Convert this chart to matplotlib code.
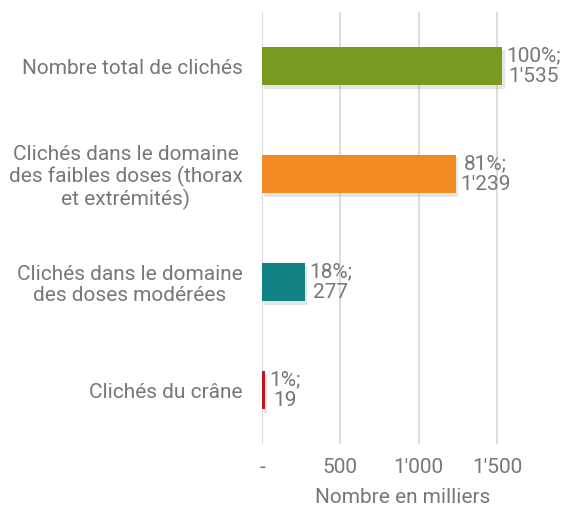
import numpy as np
import matplotlib.pyplot as plt
import matplotlib.patheffects as pe

categories = ["Nombre total de clichés",
              "Clichés dans le domaine\ndes faibles doses (thorax\net extrémités)",
              "Clichés dans le domaine\ndes doses modérées",
              "Clichés du crâne"]
values = [1535, 1239, 277, 19]
shares = [100, 81, 18, 1]
colors = ["#789A22", "#F28A22", "#138284", "#C0161F"]
xticks = [0, 500, 1000, 1500]
xticklabels = ["-", "500", "1'000", "1'500"]

grey = "#777777"
plt.rcParams['font.family'] = ['Roboto', 'DejaVu Sans']
fs = 15

fig = plt.figure(figsize=(5.66, 5.08), dpi=100)
ax = fig.add_axes([262/566, 64/508, 282/566, 432/508])

y = np.arange(len(values))
bars = ax.barh(y, values, height=0.36, color=colors, zorder=3)
for b in bars:
    b.set_path_effects([pe.SimplePatchShadow(offset=(1.5, -2.5), shadow_rgbFace="#aaaaaa", alpha=0.3), pe.Normal()])

for yi, v, s in zip(y, values, shares):
    ax.text(v + 25, yi, f"{s}%;\n{v:,}".replace(",", "'"), ha="left", va="center",
            multialignment="center", fontsize=fs, color=grey, linespacing=1.15, zorder=4)

ax.set_ylim(len(values) - 0.5, -0.5)
ax.set_xlim(0, 1800)
ax.set_yticks(y)
ax.set_yticklabels(categories, fontsize=fs, color=grey, multialignment="center", linespacing=1.12)
ax.set_xticks(xticks)
ax.set_xticklabels(xticklabels, fontsize=fs, color=grey)
ax.tick_params(length=0, pad=14)
ax.tick_params(axis="x", pad=10)
ax.grid(axis="x", color="#dddddd", linewidth=1.5, zorder=0)
for sp in ax.spines.values():
    sp.set_visible(False)
ax.set_xlabel("Nombre en milliers", fontsize=fs, color=grey, labelpad=8)

fig.savefig("out.png", dpi=100)
